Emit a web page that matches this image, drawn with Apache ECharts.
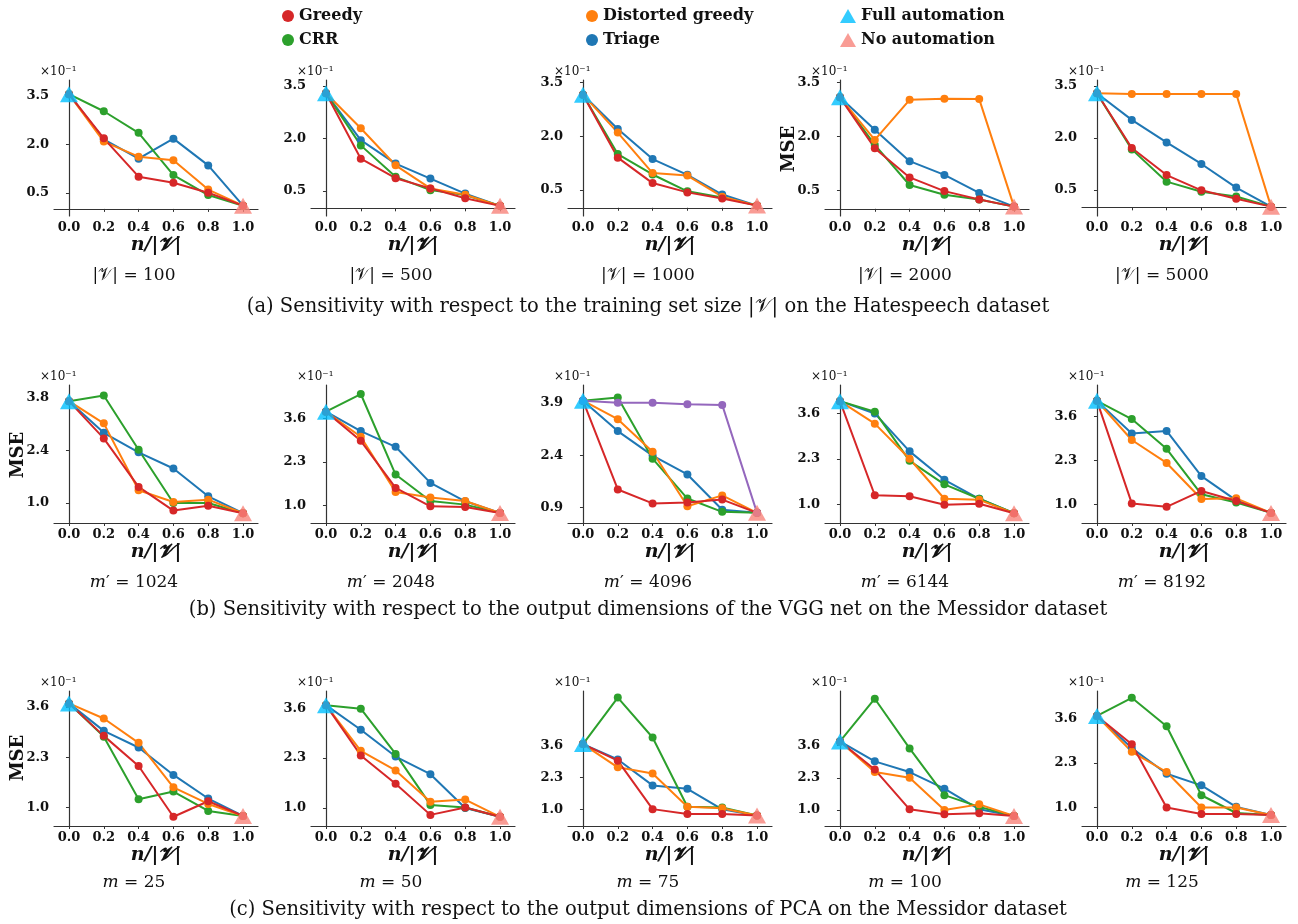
<!DOCTYPE html>
<html>
<head>
<meta charset="utf-8">
<script src="https://cdn.jsdelivr.net/npm/echarts@6/dist/echarts.min.js"></script>
<style>
html, body { margin: 0; background: #fff; }
#main { width: 1298px; height: 924px; }
</style>
</head>
<body>
<div id="main"></div>
<script>
// x positions (fraction of the training set handled by the model)
var nRatio = [0, 0.2, 0.4, 0.6, 0.8, 1.0];

var panelTitles = [
    '|𝒱| = 100', '|𝒱| = 500', '|𝒱| = 1000', '|𝒱| = 2000', '|𝒱| = 5000',
    '{i|m}′ = 1024', '{i|m}′ = 2048', '{i|m}′ = 4096', '{i|m}′ = 6144', '{i|m}′ = 8192',
    '{i|m} = 25', '{i|m} = 50', '{i|m} = 75', '{i|m} = 100', '{i|m} = 125'
];
var captions = [
    '(a) Sensitivity with respect to the training set size |𝒱| on the Hatespeech dataset',
    '(b) Sensitivity with respect to the output dimensions of the VGG net on the Messidor dataset',
    '(c) Sensitivity with respect to the output dimensions of PCA on the Messidor dataset'
];

// MSE (x10^-1) at n/|V| = 0 and 1
var fullAutomation = [3.56, 3.29, 3.16, 3.09, 3.29, 3.71, 3.80, 3.96, 3.95, 4.07, 3.69, 3.68, 3.67, 3.76, 3.68];
var noAutomation   = [0.10, 0.07, 0.06, 0.06, 0.02, 0.73, 0.77, 0.75, 0.76, 0.75, 0.78, 0.77, 0.75, 0.76, 0.78];

// values at n/|V| = 0.2, 0.4, 0.6, 0.8
var greedy = [
    [2.19, 1.00, 0.81, 0.50], [1.42, 0.86, 0.57, 0.29], [1.40, 0.69, 0.43, 0.26], [1.68, 0.87, 0.49, 0.26], [1.71, 0.93, 0.49, 0.25],
    [2.72, 1.43, 0.80, 0.93], [2.93, 1.52, 0.97, 0.95], [1.42, 1.02, 1.05, 1.13], [1.27, 1.24, 1.00, 1.03], [1.03, 0.93, 1.40, 1.10],
    [2.85, 2.07, 0.76, 1.16], [2.37, 1.63, 0.82, 1.01], [2.99, 1.01, 0.81, 0.81], [2.63, 1.03, 0.83, 0.87], [2.85, 1.00, 0.81, 0.81]
];
var distortedGreedy = [
    [2.09, 1.62, 1.51, 0.60], [2.29, 1.23, 0.57, 0.39], [2.10, 0.97, 0.90, 0.31], [1.91, 3.02, 3.05, 3.04], [3.27, 3.27, 3.27, 3.27],
    [3.12, 1.34, 1.03, 1.09], [3.05, 1.40, 1.23, 1.13], [3.43, 2.50, 0.94, 1.25], [3.31, 2.31, 1.17, 1.14], [2.91, 2.23, 1.16, 1.18],
    [3.30, 2.67, 1.52, 1.09], [2.49, 1.98, 1.16, 1.22], [2.72, 2.47, 1.11, 1.05], [2.53, 2.30, 1.00, 1.23], [2.63, 2.04, 1.00, 1.00]
];
var crr = [
    [3.03, 2.36, 1.05, 0.43], [1.80, 0.90, 0.52, 0.38], [1.50, 0.93, 0.46, 0.29], [1.77, 0.66, 0.39, 0.26], [1.67, 0.74, 0.45, 0.31],
    [3.86, 2.42, 1.00, 1.00], [4.33, 1.92, 1.13, 1.02], [4.05, 2.30, 1.16, 0.78], [3.65, 2.25, 1.58, 1.17], [3.53, 2.65, 1.30, 1.06],
    [2.83, 1.21, 1.41, 0.91], [3.59, 2.41, 1.08, 1.01], [5.57, 3.94, 1.11, 1.08], [5.48, 3.48, 1.60, 1.13], [4.21, 3.38, 1.36, 0.84]
];
var triage = [
    [2.16, 1.56, 2.18, 1.35], [1.95, 1.28, 0.85, 0.42], [2.20, 1.36, 0.92, 0.37], [2.19, 1.32, 0.94, 0.44], [2.52, 1.87, 1.25, 0.57],
    [2.87, 2.35, 1.92, 1.18], [3.22, 2.75, 1.67, 1.12], [3.09, 2.39, 1.85, 0.84], [3.60, 2.52, 1.71, 1.17], [3.10, 3.18, 1.84, 1.12],
    [2.98, 2.55, 1.84, 1.23], [3.04, 2.34, 1.88, 1.00], [3.04, 1.98, 1.84, 1.00], [2.96, 2.53, 1.86, 1.03], [2.74, 1.99, 1.65, 1.02]
];
// extra (unlabelled) purple curve, only in the m' = 4096 panel
var extraPanel = 7;
var extraCurve = [3.90, 3.90, 3.86, 3.84];

var yTicks = [
    [0.5, 2.0, 3.5], [0.5, 2.0, 3.5], [0.5, 2.0, 3.5], [0.5, 2.0, 3.5], [0.5, 2.0, 3.5],
    [1.0, 2.4, 3.8], [1.0, 2.3, 3.6], [0.9, 2.4, 3.9], [1.0, 2.3, 3.6], [1.0, 2.3, 3.6],
    [1.0, 2.3, 3.6], [1.0, 2.3, 3.6], [1.0, 2.3, 3.6], [1.0, 2.3, 3.6], [1.0, 2.3, 3.6]
];

// layout
var colLeft = [54, 311, 568, 825, 1082];
var rowTop = [80, 385, 691];
var rowHeight = [136, 138, 135];
var yRange = [
    [-0.22, 4.00], [-0.22, 3.67], [-0.23, 3.57], [-0.20, 3.57], [-0.25, 3.67],
    [0.47, 4.14], [0.47, 4.60], [0.46, 4.41], [0.48, 4.41], [0.45, 4.54],
    [0.52, 4.01], [0.53, 4.05], [0.32, 5.84], [0.36, 5.79], [0.46, 4.41]
];
var mseLabels = [[789, 149], [18, 455], [18, 758]];
var subtitleY = [276, 583, 883];
var captionY = [307, 610, 910];

var colors = {
    'Greedy': '#d62728',
    'Distorted greedy': '#ff7f0e',
    'CRR': '#2ca02c',
    'Triage': '#1f77b4',
    'extra': '#9467bd'
};
var serif = 'DejaVu Serif';
var ink = '#111';

var myChart = echarts.init(document.getElementById('main'));

var grids = [], xAxes = [], yAxes = [], series = [], graphics = [];

function lineSeries(name, vals, p, color) {
    var pts = [fullAutomation[p]].concat(vals, [noAutomation[p]]);
    return {
        name: name,
        type: 'line',
        xAxisIndex: p,
        yAxisIndex: p,
        data: nRatio.map(function (x, i) { return [x, pts[i]]; }),
        symbol: 'circle',
        symbolSize: 8,
        showAllSymbol: true,
        lineStyle: { width: 2, color: color },
        itemStyle: { color: color },
        emphasis: { disabled: true },
        z: 3
    };
}

for (var p = 0; p < 15; p++) {
    var r = Math.floor(p / 5), c = p % 5;
    grids.push({ left: colLeft[c], top: rowTop[r], width: 204, height: rowHeight[r] });
    xAxes.push({
        gridIndex: p,
        type: 'value',
        min: -0.086,
        max: 1.086,
        axisLine: { lineStyle: { color: '#333', width: 1.2 } },
        splitLine: { show: false },
        axisTick: { customValues: nRatio, length: 3, lineStyle: { color: '#333' } },
        axisLabel: {
            customValues: nRatio,
            margin: 5,
            formatter: function (v) { return v.toFixed(1); },
            fontFamily: serif, fontWeight: 'bold', fontSize: 13, color: ink
        },
        name: 'n/|𝓥|',
        nameLocation: 'middle',
        nameGap: 20,
        nameTextStyle: { fontFamily: serif, fontWeight: 'bold', fontStyle: 'italic', fontSize: 19, color: ink, verticalAlign: 'top' }
    });
    yAxes.push({
        gridIndex: p,
        type: 'value',
        min: yRange[p][0],
        max: yRange[p][1],
        axisLine: { show: true, lineStyle: { color: '#333', width: 1.2 } },
        splitLine: { show: false },
        axisTick: { show: true, customValues: yTicks[p], length: 3, lineStyle: { color: '#333' } },
        axisLabel: {
            customValues: yTicks[p],
            margin: 5,
            formatter: function (v) { return v.toFixed(1); },
            fontFamily: serif, fontWeight: 'bold', fontSize: 13, color: ink
        }
    });

    series.push(lineSeries('Triage', triage[p], p, colors['Triage']));
    series.push(lineSeries('CRR', crr[p], p, colors['CRR']));
    series.push(lineSeries('Distorted greedy', distortedGreedy[p], p, colors['Distorted greedy']));
    series.push(lineSeries('Greedy', greedy[p], p, colors['Greedy']));
    if (p === extraPanel) {
        series.push(lineSeries('Other', extraCurve, p, colors['extra']));
    }
    series.push({
        name: 'Full automation', type: 'scatter', xAxisIndex: p, yAxisIndex: p,
        symbol: 'triangle', symbolSize: [18, 16],
        data: [[nRatio[0], fullAutomation[p]]],
        itemStyle: { color: '#00bfff' }, z: 10
    });
    series.push({
        name: 'No automation', type: 'scatter', xAxisIndex: p, yAxisIndex: p,
        symbol: 'triangle', symbolSize: [18, 16],
        data: [[nRatio[5], noAutomation[p]]],
        itemStyle: { color: '#f7837a' }, z: 10
    });

    // scale factor above the y axis
    graphics.push({
        type: 'text', x: colLeft[c] - 14, y: rowTop[r] - 8,
        style: { text: '×10⁻¹', font: '12px "DejaVu Serif"', fill: ink, textAlign: 'left', textVerticalAlign: 'middle' }
    });
    // panel subtitle
    graphics.push({
        type: 'text', x: colLeft[c] + 80, y: subtitleY[r],
        style: {
            text: panelTitles[p], font: '17px "DejaVu Serif"', fill: ink,
            textAlign: 'center', textVerticalAlign: 'middle',
            rich: { i: { fontStyle: 'italic', fontFamily: serif, fontSize: 17 } }
        }
    });
}

captions.forEach(function (t, i) {
    graphics.push({
        type: 'text', x: 648, y: captionY[i],
        style: { text: t, font: '19.5px "DejaVu Serif"', fill: ink, textAlign: 'center', textVerticalAlign: 'middle' }
    });
});
mseLabels.forEach(function (pos) {
    graphics.push({
        type: 'text', x: pos[0], y: pos[1], rotation: Math.PI / 2,
        style: { text: 'MSE', font: 'bold 18px "DejaVu Serif"', fill: ink, textAlign: 'center', textVerticalAlign: 'middle' }
    });
});

var legendText = { fontFamily: serif, fontWeight: 'bold', fontSize: 16, color: ink };
var option = {
    animation: false,
    backgroundColor: '#fff',
    grid: grids,
    xAxis: xAxes,
    yAxis: yAxes,
    legend: [
        { left: 277, top: 3, orient: 'vertical', itemGap: 8, itemWidth: 12, itemHeight: 12, textStyle: legendText,
          data: [{ name: 'Greedy', icon: 'circle' }, { name: 'CRR', icon: 'circle' }] },
        { left: 581, top: 3, orient: 'vertical', itemGap: 8, itemWidth: 12, itemHeight: 12, textStyle: legendText,
          data: [{ name: 'Distorted greedy', icon: 'circle' }, { name: 'Triage', icon: 'circle' }] },
        { left: 835, top: 3, orient: 'vertical', itemGap: 8, itemWidth: 16, itemHeight: 14, textStyle: legendText,
          data: [{ name: 'Full automation', icon: 'triangle' }, { name: 'No automation', icon: 'triangle' }] }
    ],
    graphic: graphics,
    series: series
};

if (option && typeof option === 'object') {
    myChart.setOption(option, true);
}
</script>
</body>
</html>
